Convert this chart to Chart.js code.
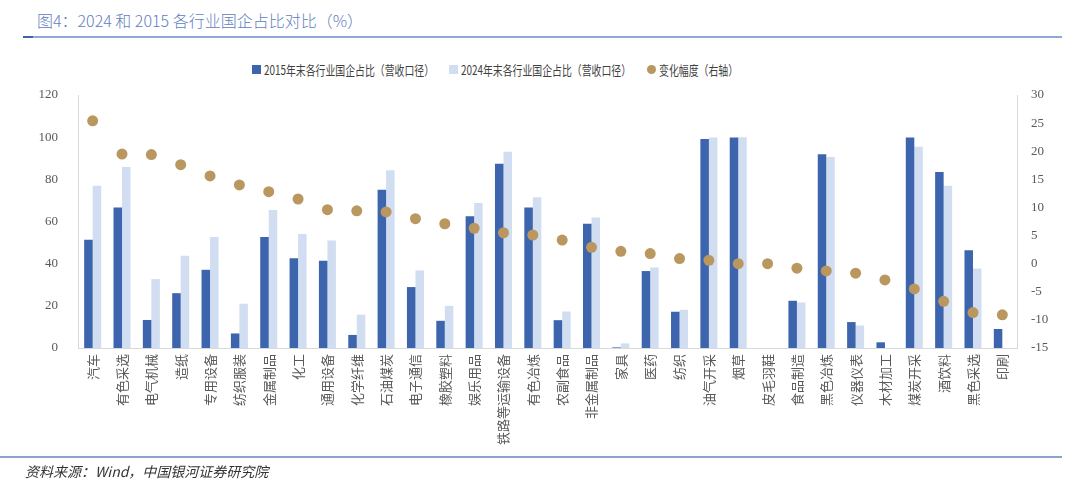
<!DOCTYPE html>
<html>
<head>
<meta charset="utf-8">
<script src="https://cdn.jsdelivr.net/npm/chart.js@4.4.1/dist/chart.umd.min.js"></script>
<style>
  body { margin: 0; background: #fff; font-family: "Noto Sans CJK SC", sans-serif; }
  #wrap { position: relative; width: 1080px; height: 499px; overflow: hidden; }
  #title { position: absolute; left: 37px; top: 8px; font-size: 16px; font-weight: 300; color: #5f80c0; }
  #topline { position: absolute; left: 23px; top: 36px; width: 1039px; height: 2px; background: #8fa8d6; }
  #topline span { position: absolute; left: 0; top: 0; width: 10px; height: 2px; background: #3f63a8; }
  #bottomline { position: absolute; left: 0; top: 456px; width: 1062px; height: 2px; background: #8ea2cd; }
  #source { position: absolute; left: 25px; top: 461px; font-size: 14px; font-style: italic; color: #333; }
  #legend { position: absolute; left: 0; top: 59px; width: 1080px; height: 20px; font-size: 13px; color: #404040; }
  #legend .item { position: absolute; top: 0; height: 20px; display: flex; align-items: center; white-space: nowrap; }
  #legend .box { width: 9px; height: 9px; margin-right: 3px; flex: none; }
  #legend .dot { width: 9px; height: 9px; border-radius: 50%; margin-right: 3px; flex: none; }
  #legend .txt { display: inline-block; transform: scaleX(0.76); transform-origin: left center; }
  canvas { position: absolute; left: 0; top: 0; }
</style>
</head>
<body>
<div id="wrap">
  <div id="title">图4：2024 和 2015 各行业国企占比对比（%）</div>
  <div id="topline"><span></span></div>
  <div id="legend"></div>
  <canvas id="chart" width="1080" height="499"></canvas>
  <div id="bottomline"></div>
  <div id="source">资料来源：Wind，中国银河证券研究院</div>
</div>
<script>
const industries = ["汽车", "有色采选", "电气机械", "造纸", "专用设备", "纺织服装", "金属制品", "化工",
  "通用设备", "化学纤维", "石油煤炭", "电子通信", "橡胶塑料", "娱乐用品", "铁路等运输设备", "有色冶炼",
  "农副食品", "非金属制品", "家具", "医药", "纺织", "油气开采", "烟草", "皮毛羽鞋",
  "食品制造", "黑色冶炼", "仪器仪表", "木材加工", "煤炭开采", "酒饮料", "黑色采选", "印刷"];

const share2015 = [51.3, 66.6, 13.3, 26.0, 37.1, 6.9, 52.7, 42.6, 41.4, 6.2, 75.1, 28.9, 12.9, 62.5, 87.4, 66.6,
  13.2, 58.9, 0.3, 36.5, 17.2, 99.1, 99.9, 0, 22.4, 91.9, 12.3, 2.7, 99.9, 83.5, 46.4, 9.0];
const share2024 = [76.9, 85.9, 32.7, 43.7, 52.7, 21.0, 65.5, 54.1, 51.0, 15.8, 84.3, 36.8, 20.0, 68.8, 93.1, 71.5,
  17.3, 61.9, 2.2, 38.2, 18.1, 99.8, 100, 0, 21.6, 90.6, 10.7, 0, 95.5, 76.9, 37.7, 0];
const change = [25.4, 19.5, 19.4, 17.6, 15.6, 14.0, 12.8, 11.5, 9.6, 9.4, 9.2, 8.0, 7.1, 6.3, 5.5, 5.1,
  4.2, 2.9, 2.2, 1.8, 0.9, 0.6, 0.0, 0.0, -0.8, -1.3, -1.7, -2.9, -4.5, -6.7, -8.7, -9.1];

const leftTicks = [0, 20, 40, 60, 80, 100, 120];
const rightTicks = [-15, -10, -5, 0, 5, 10, 15, 20, 25, 30];

const dark = "#3d65ae";
const light = "#d1def2";
const gold = "#bb9760";
const names = ["2015年末各行业国企占比（营收口径）", "2024年末各行业国企占比（营收口径）", "变化幅度（右轴）"];

// legend drawn as html so it can sit left of centre like the original
const lg = document.getElementById("legend");
lg.innerHTML =
  `<div class="item" style="left:252px"><div class="box" style="background:${dark}"></div><span class="txt">${names[0]}</span></div>` +
  `<div class="item" style="left:449px"><div class="box" style="background:${light}"></div><span class="txt">${names[1]}</span></div>` +
  `<div class="item" style="left:647px"><div class="dot" style="background:${gold}"></div><span class="txt">${names[2]}</span></div>`;

const tickFont = { family: "'Liberation Serif', 'Times New Roman', serif", size: 13 };

new Chart(document.getElementById("chart"), {
  type: "bar",
  data: {
    labels: industries,
    datasets: [
      { type: "line", label: names[2], data: change, yAxisID: "y1", showLine: false,
        pointRadius: 5.5, pointHoverRadius: 5.5, pointBackgroundColor: gold, pointBorderWidth: 0,
        borderColor: gold, order: 0 },
      { label: names[0], data: share2015, backgroundColor: dark, yAxisID: "y", order: 1 },
      { label: names[1], data: share2024, backgroundColor: light, yAxisID: "y", order: 2 }
    ]
  },
  options: {
    responsive: false,
    animation: false,
    datasets: { bar: { categoryPercentage: 0.58, barPercentage: 1.0 } },
    layout: { padding: { top: 95, left: 0, right: 0, bottom: 0 } },
    plugins: { legend: { display: false }, tooltip: { enabled: false } },
    scales: {
      x: {
        grid: { display: false, drawTicks: false },
        border: { color: "#d9d9d9", width: 1 },
        ticks: { autoSkip: false, maxRotation: 90, minRotation: 90, padding: 6,
          color: "#595959", font: { family: "'Noto Sans CJK SC'", size: 13 } },
        afterFit: s => { s.height = 499 - 348; }
      },
      y: {
        position: "left", min: 0, max: 120,
        afterBuildTicks: s => { s.ticks = leftTicks.map(v => ({ value: v })); },
        grid: { display: false, drawTicks: false },
        border: { color: "#d9d9d9", width: 1 },
        ticks: { color: "#595959", font: tickFont, padding: 20 },
        afterFit: s => { s.width = 78; }
      },
      y1: {
        position: "right", min: -15, max: 30,
        afterBuildTicks: s => { s.ticks = rightTicks.map(v => ({ value: v })); },
        grid: { display: false, drawTicks: false },
        border: { color: "#d9d9d9", width: 1 },
        ticks: { color: "#595959", font: tickFont, padding: 14 },
        afterFit: s => { s.width = 1080 - 1017; }
      }
    }
  }
});
</script>
</body>
</html>
